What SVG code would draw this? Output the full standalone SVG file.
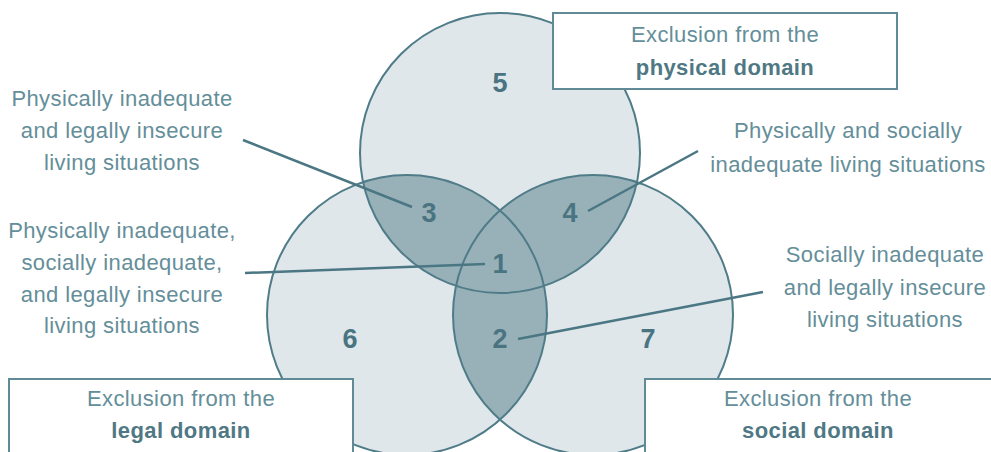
<svg xmlns="http://www.w3.org/2000/svg" width="991" height="452" viewBox="0 0 991 452">
  <style>
    .circ { fill: #dfe7ea; stroke: none; }
    .ring { fill: none; stroke: #4f7c88; stroke-width: 2; }
    .dark { fill: #98b1b8; }
    .box { fill: #ffffff; stroke: #5f8a96; stroke-width: 2; }
    .lbl { font-family: "Liberation Sans", Arial, sans-serif; font-size: 22px; letter-spacing: 0.4px; fill: #648e99; text-anchor: middle; }
    .bold { font-weight: bold; fill: #4f7884; }
    .num { font-family: "Liberation Sans", Arial, sans-serif; font-size: 27px; font-weight: bold; fill: #4a7481; text-anchor: middle; }
    .conn { stroke: #4a7783; stroke-width: 2.5; fill: none; stroke-linecap: butt; }
  </style>
  <defs>
    <clipPath id="clipTop"><circle cx="500" cy="153" r="140"/></clipPath>
    <clipPath id="clipLeft"><circle cx="407" cy="315" r="140"/></clipPath>
    <clipPath id="clipRight"><circle cx="593" cy="315" r="140"/></clipPath>
  </defs>

  <g id="venn">
    <circle class="circ" cx="500" cy="153" r="140"/>
    <circle class="circ" cx="407" cy="315" r="140"/>
    <circle class="circ" cx="593" cy="315" r="140"/>
    <circle class="dark" cx="407" cy="315" r="140" clip-path="url(#clipTop)"/>
    <circle class="dark" cx="593" cy="315" r="140" clip-path="url(#clipTop)"/>
    <circle class="dark" cx="593" cy="315" r="140" clip-path="url(#clipLeft)"/>
    <circle class="ring" cx="500" cy="153" r="140"/>
    <circle class="ring" cx="407" cy="315" r="140"/>
    <circle class="ring" cx="593" cy="315" r="140"/>
  </g>

  <g id="connectors">
    <line class="conn" x1="243" y1="140" x2="412" y2="207"/>
    <line class="conn" x1="245" y1="273" x2="485" y2="264"/>
    <line class="conn" x1="698" y1="151" x2="588" y2="211"/>
    <line class="conn" x1="763" y1="292" x2="518" y2="339"/>
  </g>

  <g id="box-physical">
    <rect class="box" x="553" y="13" width="344" height="76"/>
    <text class="lbl" x="725" y="42">Exclusion from the</text>
    <text class="lbl bold" x="725" y="75">physical domain</text>
  </g>
  <g id="box-legal">
    <rect class="box" x="9" y="379" width="344" height="80"/>
    <text class="lbl" x="181" y="406">Exclusion from the</text>
    <text class="lbl bold" x="181" y="438">legal domain</text>
  </g>
  <g id="box-social">
    <rect class="box" x="645" y="379" width="350" height="80"/>
    <text class="lbl" x="818" y="406">Exclusion from the</text>
    <text class="lbl bold" x="818" y="438">social domain</text>
  </g>

  <g id="label-3">
    <text class="lbl" x="122" y="106">Physically inadequate</text>
    <text class="lbl" x="122" y="138">and legally insecure</text>
    <text class="lbl" x="122" y="170">living situations</text>
  </g>
  <g id="label-1">
    <text class="lbl" x="122" y="238">Physically inadequate,</text>
    <text class="lbl" x="122" y="270">socially inadequate,</text>
    <text class="lbl" x="122" y="302">and legally insecure</text>
    <text class="lbl" x="122" y="333">living situations</text>
  </g>
  <g id="label-4">
    <text class="lbl" x="848" y="138">Physically and socially</text>
    <text class="lbl" x="848" y="172">inadequate living situations</text>
  </g>
  <g id="label-2">
    <text class="lbl" x="885" y="262">Socially inadequate</text>
    <text class="lbl" x="885" y="295">and legally insecure</text>
    <text class="lbl" x="885" y="327">living situations</text>
  </g>

  <g id="numbers">
    <text class="num" x="500" y="92">5</text>
    <text class="num" x="429" y="222">3</text>
    <text class="num" x="570" y="222">4</text>
    <text class="num" x="500" y="273">1</text>
    <text class="num" x="350" y="348">6</text>
    <text class="num" x="500" y="348">2</text>
    <text class="num" x="648" y="348">7</text>
  </g>
</svg>
